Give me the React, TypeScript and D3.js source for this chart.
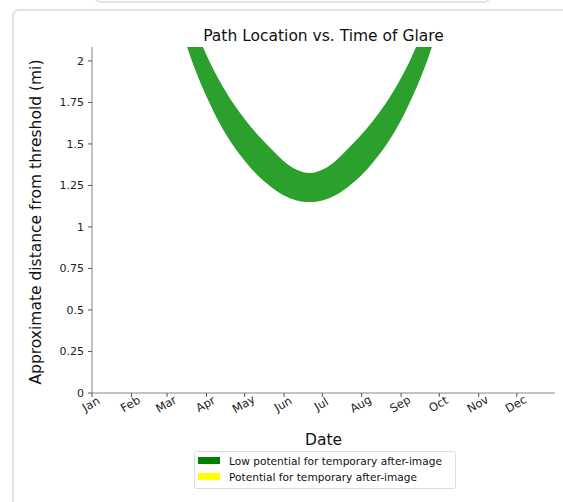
import React from 'react';
import * as d3 from 'd3';

// band samples (every 10 days around the solstice)
const bandDates = [
  '2023-03-13', '2023-03-23', '2023-04-02', '2023-04-12', '2023-04-22', '2023-05-02', '2023-05-12',
  '2023-05-22', '2023-06-01', '2023-06-11', '2023-06-21', '2023-07-01', '2023-07-11', '2023-07-21',
  '2023-07-31', '2023-08-10', '2023-08-20', '2023-08-30', '2023-09-09', '2023-09-19', '2023-09-29',
];
const lowerMi = [2.17, 1.95, 1.77, 1.615, 1.49, 1.39, 1.305, 1.24, 1.19, 1.16, 1.15, 1.16, 1.19, 1.24, 1.305, 1.39, 1.49, 1.615, 1.77, 1.95, 2.17];
const upperMi = [2.4, 2.2, 2.02, 1.87, 1.745, 1.64, 1.55, 1.47, 1.395, 1.345, 1.325, 1.345, 1.395, 1.47, 1.55, 1.64, 1.745, 1.87, 2.02, 2.2, 2.4];

const monthLabels = ['Jan', 'Feb', 'Mar', 'Apr', 'May', 'Jun', 'Jul', 'Aug', 'Sep', 'Oct', 'Nov', 'Dec'];
const yTicks = [0, 0.25, 0.5, 0.75, 1, 1.25, 1.5, 1.75, 2];

const legendItems = [
  { label: 'Low potential for temporary after-image', color: '#008000' },
  { label: 'Potential for temporary after-image', color: '#ffff00' },
];

const FONT = '"DejaVu Sans", sans-serif';

const App: React.FC = () => {
  const width = 563;
  const height = 502;
  const plot = { left: 92, right: 555, top: 47, bottom: 393 };

  const parse = d3.timeParse('%Y-%m-%d');
  const x = d3.scaleTime()
    .domain([new Date(2023, 0, 1), new Date(2023, 11, 31)])
    .range([plot.left, plot.right]);
  const y = d3.scaleLinear().domain([0, 2.084]).range([plot.bottom, plot.top]);

  const rows = bandDates.map((d, i) => ({ date: parse(d) as Date, lo: lowerMi[i], hi: upperMi[i] }));
  const area = d3.area<typeof rows[number]>()
    .x(d => x(d.date))
    .y0(d => y(d.lo))
    .y1(d => y(d.hi))
    .curve(d3.curveNatural);

  const monthTicks = monthLabels.map((m, i) => ({ label: m, date: new Date(2023, i, 1) }));
  const fmtY = (v: number) => d3.format('')(v);

  return (
    <svg width={width} height={height} style={{ position: 'absolute', left: 0, top: 0, background: '#fff' }}>
      {/* page frame */}
      <rect x={95} y={-10} width={395} height={12} rx={6} fill="#fff" stroke="#e2e2e2" strokeWidth={2} />
      <rect x={13} y={10} width={600} height={560} rx={6} fill="#fff" stroke="#e2e2e2" strokeWidth={2} />

      <defs>
        <clipPath id="plotClip">
          <rect x={plot.left} y={plot.top} width={plot.right - plot.left} height={plot.bottom - plot.top} />
        </clipPath>
      </defs>

      <text x={(plot.left + plot.right) / 2} y={41} textAnchor="middle" fontFamily={FONT} fontSize={15.5} fill="#111">
        Path Location vs. Time of Glare
      </text>

      <path d={area(rows) ?? ''} fill="#2ca02c" clipPath="url(#plotClip)" />

      {/* axes */}
      <line x1={plot.left} x2={plot.left} y1={plot.top} y2={plot.bottom} stroke="#888" strokeWidth={1} />
      <line x1={plot.left} x2={plot.right} y1={plot.bottom} y2={plot.bottom} stroke="#888" strokeWidth={1} />

      {yTicks.map(t => (
        <g key={t}>
          <line x1={plot.left - 4} x2={plot.left} y1={y(t)} y2={y(t)} stroke="#555" />
          <text x={plot.left - 8} y={y(t)} dy="0.35em" textAnchor="end" fontFamily={FONT} fontSize={11} fill="#222">
            {fmtY(t)}
          </text>
        </g>
      ))}

      {monthTicks.map(t => {
        const tx = x(t.date);
        return (
          <g key={t.label}>
            <line x1={tx} x2={tx} y1={plot.bottom} y2={plot.bottom + 4} stroke="#555" />
            <text
              transform={`translate(${tx - 1},${plot.bottom + 11}) rotate(-30)`}
              dy="0.35em"
              textAnchor="middle"
              fontFamily={FONT}
              fontSize={11.5}
              fill="#222"
            >
              {t.label}
            </text>
          </g>
        );
      })}

      <text x={(plot.left + plot.right) / 2} y={445} textAnchor="middle" fontFamily={FONT} fontSize={15.5} fill="#111">
        Date
      </text>
      <text
        transform={`translate(41,${(plot.top + plot.bottom) / 2 + 2}) rotate(-90)`}
        textAnchor="middle"
        fontFamily={FONT}
        fontSize={15.5}
        fill="#111"
      >
        Approximate distance from threshold (mi)
      </text>

      {/* legend */}
      <rect x={194.5} y={451.5} width={261} height={37} rx={2} fill="#fff" stroke="#ddd" />
      {legendItems.map((item, i) => (
        <g key={item.label} transform={`translate(198,${457 + i * 16})`}>
          <rect x={0} y={0} width={22} height={7} fill={item.color} />
          <text x={31} y={4} dy="0.35em" fontFamily={FONT} fontSize={10.6} fill="#111">
            {item.label}
          </text>
        </g>
      ))}
    </svg>
  );
};

export default App;
